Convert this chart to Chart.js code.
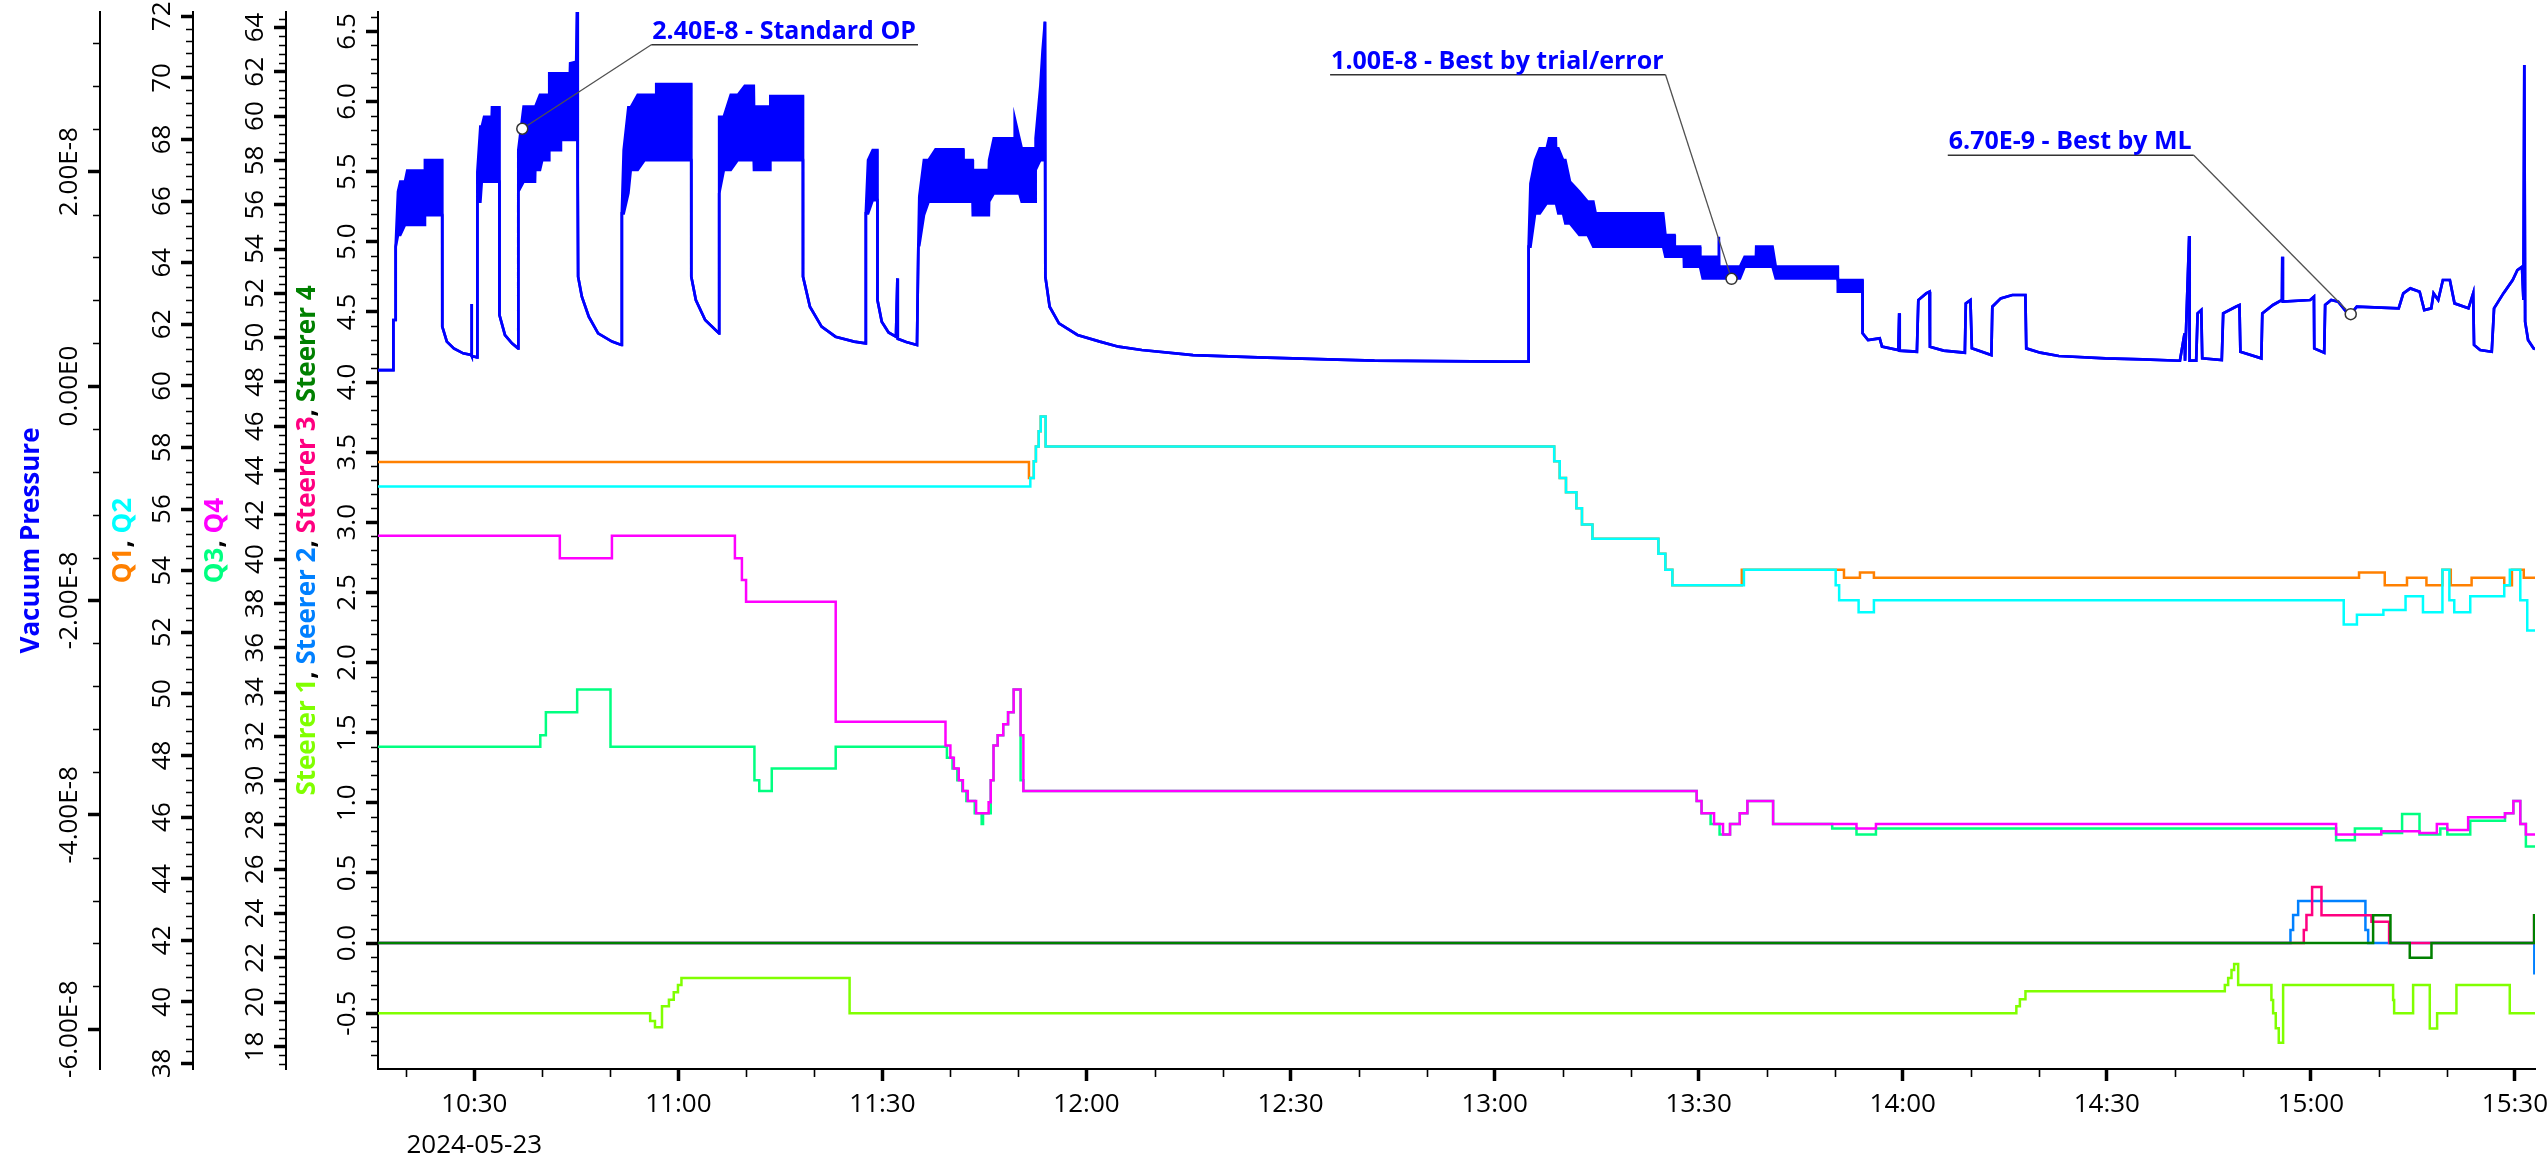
<!DOCTYPE html>
<html>
<head>
<meta charset="utf-8">
<title>Vacuum pressure, quadrupoles and steerers – 2024-05-23</title>
<script src="https://cdn.jsdelivr.net/npm/chart.js@4.4.1/dist/chart.umd.min.js"></script>
<style>
  html, body { margin: 0; padding: 0; background: #ffffff; }
  #wrap { position: relative; width: 2547px; height: 1158px; }
</style>
</head>
<body>
<div id="wrap"><canvas id="chart"></canvas></div>
<script>
// ---------------------------------------------------------------------------
// Data. Time is in minutes after midnight on 2024-05-23.
// Vacuum pressure is stored in units of 1e-8; where the gauge reading
// oscillates quickly it is kept as an upper and a lower envelope.
// One line per stretch of the trace; the three arrays run in parallel.
// ---------------------------------------------------------------------------
const vacuumTime = [
  615.84, 618.09, 618.10, 618.43, 618.44, 618.78, 619.12, 619.80, 620.14, 622.70, 622.74, 625.28,
  625.29, 625.96, 626.99, 628.36, 629.55, 629.59, 629.64, 630.41,
  630.45, 630.89, 631.09, 631.44, 632.56, 632.60, 633.69,
  633.70, 634.51, 635.54, 636.43,
  636.47, 637.25, 638.92, 638.96, 639.65, 639.99, 640.98, 641.02, 642.69, 642.73, 644.05, 644.09, 644.98, 645.12, 645.20, 645.26,
  645.81, 646.83, 648.20, 650.25, 651.62,
  651.69, 651.96, 652.65, 652.99, 654.02, 655.04, 656.71, 656.75, 661.89,
  661.90, 662.57, 663.94, 665.99,
  666.00, 666.68, 667.70, 668.73, 669.76, 671.08, 671.12, 673.48, 673.52, 678.31,
  678.32, 679.34, 681.05, 683.10, 685.84, 687.55,
  687.56, 687.89, 688.57, 689.26,
  689.27, 689.90, 690.90, 691.99, 692.20, 692.25, 693.50, 695.08,
  695.28, 695.42, 696.10, 696.79, 697.81, 701.88, 701.92, 703.25, 703.29, 705.64, 705.68, 706.37, 709.41, 709.45, 710.13, 710.47, 711.50, 712.48, 712.52, 713.21, 713.55, 713.89,
  713.95, 714.58, 715.95, 718.68, 721.97, 724.71, 728.13, 735.66, 745.24, 755.50, 762.34, 781.50, 784.93,
  785.00, 785.27, 785.95, 786.64, 787.66, 788.00, 788.99, 789.03, 789.37, 790.06, 790.40, 791.08, 792.45, 793.68, 794.51, 794.85,
  804.77, 805.11, 806.44, 806.48, 807.81, 807.85, 810.20, 810.24, 810.59, 812.90, 812.95, 812.98, 813.02, 816.06, 816.75, 818.42, 818.46, 820.85, 821.33, 830.45, 830.46, 834.08,
  834.10, 834.90, 836.61, 836.95, 839.35, 839.48, 839.55, 842.08,
  842.29, 843.45, 843.93, 844.00, 846.00, 849.13,
  849.27, 849.95, 850.16, 853.03,
  853.17, 854.40, 856.11, 858.03, 858.16, 860.22, 862.95, 869.80, 875.27, 880.75,
  881.43, 881.50, 882.11, 882.18, 883.14, 883.35, 883.89, 884.03, 886.90,
  887.11, 888.96, 889.50, 889.64, 892.72,
  892.86, 894.43, 895.75, 895.80, 895.88, 899.90, 900.45, 900.50, 901.96,
  902.10, 902.99, 904.01, 905.38, 905.86, 906.75, 912.91, 913.59, 914.62, 915.99, 916.67, 917.70, 918.04, 918.72, 919.41, 920.43, 921.12, 923.17, 923.86,
  923.99, 924.88, 926.59,
  926.93, 928.30, 929.67, 930.36, 931.04, 931.25, 931.38, 931.50, 931.93, 932.75, 932.95
];
const vacuumHigh = [
  0.149, 0.149, 0.616, 0.616, 1.300, 1.813, 1.906, 1.906, 2.009, 2.009, 2.108, 2.108,
  0.554, 0.414, 0.351, 0.305, 0.289, 0.765, 0.280, 0.267,
  1.999, 2.419, 2.419, 2.512, 2.512, 2.600, 2.600,
  0.662, 0.476, 0.398, 0.351,
  2.201, 2.606, 2.606, 2.606, 2.715, 2.715, 2.715, 2.917, 2.917, 2.917, 2.917, 3.010, 3.025, 3.550, 1.922, 1.020,
  0.833, 0.647, 0.491, 0.414, 0.383,
  1.611, 2.201, 2.600, 2.600, 2.715, 2.715, 2.715, 2.817, 2.817,
  1.020, 0.802, 0.616, 0.491,
  2.512, 2.512, 2.715, 2.715, 2.799, 2.799, 2.606, 2.606, 2.705, 2.705,
  1.020, 0.740, 0.554, 0.460, 0.414, 0.398,
  1.611, 2.108, 2.201, 2.201,
  0.802, 0.600, 0.500, 0.460, 1.004, 0.440, 0.410, 0.383,
  1.315, 1.766, 2.108, 2.108, 2.208, 2.208, 2.108, 2.108, 2.015, 2.015, 2.108, 2.310, 2.310, 2.497, 2.310, 2.217, 2.217, 2.217, 2.310, 2.792, 3.134, 3.399,
  1.020, 0.740, 0.585, 0.476, 0.414, 0.367, 0.336, 0.289, 0.267, 0.249, 0.236, 0.227, 0.227,
  1.300, 1.891, 2.108, 2.217, 2.217, 2.310, 2.310, 2.217, 2.217, 2.108, 2.108, 1.906, 1.813, 1.720, 1.720, 1.611,
  1.611, 1.409, 1.409, 1.300, 1.300, 1.300, 1.300, 1.206, 1.206, 1.206, 1.113, 1.393, 1.113, 1.113, 1.206, 1.206, 1.300, 1.300, 1.113, 1.113, 0.989, 0.989,
  0.491, 0.429, 0.445, 0.367, 0.336, 0.678, 0.330, 0.320,
  0.802, 0.864, 0.880, 0.367, 0.330, 0.311,
  0.771, 0.802, 0.351, 0.289,
  0.740, 0.818, 0.849, 0.849, 0.351, 0.311, 0.280, 0.258, 0.249, 0.236,
  0.491, 0.236, 1.399, 0.236, 0.236, 0.678, 0.709, 0.258, 0.242,
  0.678, 0.740, 0.756, 0.320, 0.258,
  0.678, 0.756, 0.802, 1.206, 0.787, 0.802, 0.833, 0.351, 0.311,
  0.756, 0.802, 0.787, 0.678, 0.670, 0.740, 0.725, 0.864, 0.911, 0.880, 0.709, 0.725, 0.864, 0.802, 0.989, 0.989, 0.771, 0.725, 0.864,
  0.383, 0.336, 0.320,
  0.725, 0.864, 0.989, 1.082, 1.113, 0.802, 2.994, 0.600, 0.429, 0.351, 0.345
];
const vacuumLow = [
  0.149, 0.149, 0.616, 0.616, 1.300, 1.409, 1.409, 1.502, 1.502, 1.502, 1.595, 1.595,
  0.554, 0.414, 0.351, 0.305, 0.289, 0.765, 0.280, 0.267,
  1.720, 1.720, 1.906, 1.906, 1.906, 1.906, 1.906,
  0.662, 0.476, 0.398, 0.351,
  1.813, 1.906, 1.906, 2.015, 2.015, 2.108, 2.108, 2.201, 2.201, 2.295, 2.295, 2.295, 2.295, 3.550, 1.922, 1.020,
  0.833, 0.647, 0.491, 0.414, 0.383,
  1.611, 1.611, 1.800, 2.015, 2.015, 2.108, 2.108, 2.108, 2.108,
  1.020, 0.802, 0.616, 0.491,
  1.797, 2.015, 2.015, 2.108, 2.108, 2.108, 2.015, 2.015, 2.108, 2.108,
  1.020, 0.740, 0.554, 0.460, 0.414, 0.398,
  1.611, 1.611, 1.735, 1.735,
  0.802, 0.600, 0.500, 0.460, 1.004, 0.440, 0.410, 0.383,
  1.315, 1.315, 1.595, 1.720, 1.720, 1.720, 1.720, 1.720, 1.595, 1.595, 1.720, 1.797, 1.797, 1.797, 1.797, 1.720, 1.720, 1.720, 2.015, 2.108, 2.108, 3.399,
  1.020, 0.740, 0.585, 0.476, 0.414, 0.367, 0.336, 0.289, 0.267, 0.249, 0.236, 0.227, 0.227,
  1.300, 1.300, 1.611, 1.611, 1.704, 1.704, 1.704, 1.704, 1.611, 1.611, 1.517, 1.517, 1.409, 1.409, 1.300, 1.300,
  1.300, 1.206, 1.206, 1.206, 1.206, 1.113, 1.113, 1.113, 1.004, 1.004, 1.004, 1.004, 1.004, 1.004, 1.113, 1.113, 1.113, 1.113, 1.004, 1.004, 0.880, 0.880,
  0.491, 0.429, 0.445, 0.367, 0.336, 0.678, 0.330, 0.320,
  0.802, 0.864, 0.880, 0.367, 0.330, 0.311,
  0.771, 0.802, 0.351, 0.289,
  0.740, 0.818, 0.849, 0.849, 0.351, 0.311, 0.280, 0.258, 0.249, 0.236,
  0.491, 0.236, 1.399, 0.236, 0.236, 0.678, 0.709, 0.258, 0.242,
  0.678, 0.740, 0.756, 0.320, 0.258,
  0.678, 0.756, 0.802, 1.206, 0.787, 0.802, 0.833, 0.351, 0.311,
  0.756, 0.802, 0.787, 0.678, 0.670, 0.740, 0.725, 0.864, 0.911, 0.880, 0.709, 0.725, 0.864, 0.802, 0.989, 0.989, 0.771, 0.725, 0.864,
  0.383, 0.336, 0.320,
  0.725, 0.864, 0.989, 1.082, 1.113, 0.802, 2.994, 0.600, 0.429, 0.351, 0.345
];

// Quadrupole settings (each value holds until the next time stamp)
const q1Time  = [615.84, 711.54, 712.25, 712.56, 712.97, 713.27, 713.99, 788.76, 789.57, 790.49, 792.02, 792.84, 794.38, 804.08, 805.10, 806.13, 816.34, 831.36, 833.71, 835.76, 907.08, 910.86, 914.13, 916.99, 919.34, 920.57, 923.63, 928.43, 929.56, 931.30, 932.95];
const q1Value = [57.53, 57.01, 57.55, 58.03, 58.53, 59.01, 58.03, 57.55, 57.01, 56.55, 56.03, 55.50, 55.04, 54.55, 54.03, 53.53, 54.03, 53.77, 53.94, 53.77, 53.94, 53.53, 53.77, 53.53, 54.03, 53.53, 53.77, 53.53, 54.03, 53.77, 53.77];
const q2Time  = [615.84, 711.74, 712.25, 712.56, 712.97, 713.27, 713.99, 788.76, 789.57, 790.49, 792.02, 792.84, 794.38, 804.08, 805.10, 806.13, 816.65, 830.14, 830.65, 833.51, 835.76, 904.83, 906.77, 910.66, 913.92, 916.48, 919.34, 920.36, 921.08, 923.43, 928.43, 929.25, 930.79, 931.81, 932.95];
const q2Value = [56.73, 57.01, 57.55, 58.03, 58.53, 59.01, 58.03, 57.55, 57.01, 56.55, 56.03, 55.50, 55.04, 54.55, 54.03, 53.53, 54.03, 53.53, 53.04, 52.65, 53.04, 52.25, 52.57, 52.72, 53.17, 52.65, 54.03, 53.04, 52.65, 53.17, 53.53, 54.03, 53.04, 52.06, 52.06];
const q3Time  = [615.84, 639.70, 640.52, 645.12, 650.02, 671.18, 671.89, 673.73, 683.13, 699.48, 700.30, 701.01, 701.73, 702.34, 703.57, 704.59, 704.79, 705.92, 706.33, 706.94, 707.76, 708.47, 709.29, 710.31, 710.72, 809.70, 810.42, 811.75, 813.07, 814.61, 816.04, 817.16, 820.94, 829.63, 833.20, 836.06, 903.71, 906.47, 910.35, 913.41, 915.97, 919.03, 920.06, 923.43, 928.54, 929.77, 930.79, 931.61, 932.95];
const q3Value = [31.53, 32.05, 33.09, 34.11, 31.53, 30.02, 29.53, 30.55, 31.53, 31.03, 30.55, 30.02, 29.53, 29.08, 28.53, 28.04, 28.53, 30.02, 31.58, 32.05, 32.54, 33.09, 34.11, 30.02, 29.53, 29.08, 28.53, 28.04, 27.57, 28.04, 28.53, 29.08, 28.04, 27.84, 27.57, 27.84, 27.31, 27.84, 27.63, 28.49, 27.57, 27.84, 27.57, 28.19, 28.53, 29.08, 28.04, 27.02, 27.02];
const q4Time  = [615.84, 642.57, 650.23, 668.31, 669.34, 669.95, 683.13, 699.27, 699.99, 700.50, 701.22, 701.83, 702.54, 703.77, 705.61, 705.92, 706.33, 706.94, 707.76, 708.47, 709.29, 710.31, 710.72, 809.70, 810.42, 812.26, 813.58, 814.61, 816.04, 817.16, 820.94, 833.20, 836.06, 903.71, 910.35, 915.97, 918.52, 920.06, 923.12, 928.54, 929.77, 930.79, 931.61, 932.95];
const q4Value = [41.06, 40.04, 41.06, 40.04, 39.06, 38.08, 32.66, 31.58, 31.03, 30.55, 30.02, 29.53, 29.08, 28.53, 29.02, 30.02, 31.58, 32.05, 32.54, 33.09, 34.11, 32.05, 29.53, 29.08, 28.53, 28.04, 27.57, 28.04, 28.53, 29.08, 28.04, 27.84, 28.04, 27.57, 27.71, 27.63, 28.04, 27.77, 28.35, 28.53, 29.08, 28.04, 27.57, 27.57];

// Steerer settings
const s1Time  = [615.84, 655.85, 656.56, 657.59, 658.61, 659.32, 659.94, 660.45, 685.17, 856.70, 857.22, 858.04, 887.35, 887.84, 888.33, 888.72, 889.31, 894.20, 894.45, 894.84, 895.28, 895.92, 912.09, 912.24, 915.03, 917.48, 918.56, 921.40, 929.24, 932.95];
const s1Value = [-0.50, -0.556, -0.60, -0.45, -0.405, -0.35, -0.30, -0.25, -0.50, -0.45, -0.40, -0.343, -0.30, -0.25, -0.193, -0.15, -0.30, -0.406, -0.50, -0.608, -0.71, -0.30, -0.406, -0.50, -0.30, -0.61, -0.50, -0.30, -0.50, -0.50];
const s2Time  = [615.84, 897.00, 897.39, 898.13, 908.02, 908.42, 932.85, 932.95];
const s2Value = [0, 0.093, 0.20, 0.30, 0.093, 0, -0.216, -0.216];
const s3Time  = [615.84, 898.96, 899.35, 900.18, 901.56, 908.91, 911.50, 932.82, 932.95];
const s3Value = [0, 0.093, 0.20, 0.40, 0.198, 0.152, 0, 0.198, 0.198];
const s4Time  = [615.84, 909.15, 911.70, 914.54, 917.73, 932.82, 932.95];
const s4Value = [0, 0.198, 0, -0.105, 0, 0.198, 0.198];

// Marked operating points on the pressure trace
const markTime    = [637.05, 814.83, 905.86];
const markValueE8 = [2.40, 1.00, 0.67];
const markNote    = ['Standard OP', 'Best by trial/error', 'Best by ML'];

// Date shown under the first time label
const dateLabel = '2024-05-23';

// ---------------------------------------------------------------------------
// Styling
// ---------------------------------------------------------------------------
const COL = {
  vac: '#0000ff', q1: '#ff8000', q2: '#00ffff', q3: '#00ff80', q4: '#ff00ff',
  s1: '#80ff00', s2: '#0080ff', s3: '#ff0080', s4: '#008000', ink: '#000000'
};
const FONT = '"Open Sans", "Noto Sans", sans-serif';
const TICK_PX = 26;
const TITLE_PX = 26;
const NOTE_PX = 25;

const sci = x => x === 0 ? '0.00E0' : x.toExponential(2).toUpperCase().replace('E+', 'E');
const clock = v => {
  const h = Math.floor(v / 60 + 1e-9);
  const m = Math.round(v - h * 60);
  return h + ':' + String(m).padStart(2, '0');
};

// Left axes, innermost first
const Y_AXES = [
  { id: 'ySteer', weight: 0, width: 92,  min: -0.898, max: 6.638, major: 0.5, minor: 0.1,
    fmt: v => v.toFixed(1), titleDx: 22,
    title: [['Steerer 1', COL.s1], [', ', COL.ink], ['Steerer 2', COL.s2], [', ', COL.ink], ['Steerer 3', COL.s3], [', ', COL.ink], ['Steerer 4', COL.s4]] },
  { id: 'yQ34', weight: 1, width: 93, min: 16.98, max: 64.70, major: 2, minor: 0.4,
    fmt: v => String(Math.round(v)), titleDx: 23,
    title: [['Q3', COL.q3], [', ', COL.ink], ['Q4', COL.q4]] },
  { id: 'yQ12', weight: 2, width: 93, min: 37.82, max: 72.14, major: 2, minor: 0.4,
    fmt: v => String(Math.round(v)), titleDx: 24,
    title: [['Q1', COL.q1], [', ', COL.ink], ['Q2', COL.q2]] },
  { id: 'yVac', weight: 3, width: 100, min: -6.371, max: 3.489, major: 2, minor: 0.4,
    fmt: v => sci(v * 1e-8), titleDx: 32,
    title: [['Vacuum Pressure', COL.vac]] }
];

const X_MIN = 615.84, X_MAX = 932.95;

const pts = (ts, vs) => ts.map((t, i) => ({ x: t, y: vs[i] }));

// Placement of the notes relative to their marked point (pixels)
const NOTE_STYLE = [
  { dx: 129, dy: -84, side: 'left' },
  { dx: -66, dy: -204, side: 'right' },
  { dx: -157, dy: -159, side: 'right' }
];
const MARK_R = 5.5;

// ---------------------------------------------------------------------------
// Scales
// ---------------------------------------------------------------------------
const scales = {
  x: {
    type: 'linear', position: 'bottom', min: X_MIN, max: X_MAX,
    ticks: {
      stepSize: 30, includeBounds: false, autoSkip: false, maxRotation: 0, minRotation: 0,
      padding: 3, color: COL.ink,
      font: { family: FONT, size: TICK_PX, lineHeight: 1.58 },
      callback: v => (Math.abs(v - 630) < 1e-6 ? [clock(v), dateLabel] : clock(v))
    },
    grid: { drawOnChartArea: false, drawTicks: true, tickLength: 12, tickWidth: 3.5, tickColor: COL.ink },
    border: { display: true, color: COL.ink, width: 2 },
    afterFit: s => { s.height = 89; s.paddingLeft = 0; s.paddingRight = 0; }
  }
};
Y_AXES.forEach(a => {
  scales[a.id] = {
    type: 'linear', position: 'left', weight: a.weight, min: a.min, max: a.max,
    ticks: { display: false, stepSize: a.major, includeBounds: false },
    grid: { drawOnChartArea: false, drawTicks: true, tickLength: 12, tickWidth: 3.5, tickColor: COL.ink },
    border: { display: true, color: COL.ink, width: 2 },
    afterFit: s => { s.width = a.width; s.paddingTop = 0; s.paddingBottom = 0; }
  };
});

// ---------------------------------------------------------------------------
// Axis decorations: minor ticks, rotated tick labels, coloured titles
// ---------------------------------------------------------------------------
const axisDecor = {
  id: 'axisDecor',
  afterDraw(chart) {
    const ctx = chart.ctx;
    const area = chart.chartArea;
    ctx.save();
    ctx.strokeStyle = COL.ink;
    ctx.lineWidth = 1.6;

    // minor ticks on the left axes
    Y_AXES.forEach(a => {
      const s = chart.scales[a.id];
      const x0 = s.right - 1;
      const k0 = Math.ceil(a.min / a.minor - 1e-9), k1 = Math.floor(a.max / a.minor + 1e-9);
      ctx.beginPath();
      for (let k = k0; k <= k1; k++) {
        const v = k * a.minor;
        const r = v / a.major;
        if (Math.abs(r - Math.round(r)) < 1e-6) continue;
        const y = Math.round(s.getPixelForValue(v)) + 0.5;
        ctx.moveTo(x0, y);
        ctx.lineTo(x0 - 6, y);
      }
      ctx.stroke();
    });

    // minor ticks on the time axis (every 10 minutes)
    const xs = chart.scales.x;
    ctx.beginPath();
    for (let m = Math.ceil(X_MIN / 10); m * 10 <= X_MAX; m++) {
      if (m % 3 === 0) continue;
      const x = Math.round(xs.getPixelForValue(m * 10)) + 0.5;
      ctx.moveTo(x, xs.top + 1);
      ctx.lineTo(x, xs.top + 8);
    }
    ctx.stroke();

    // rotated tick labels
    ctx.fillStyle = COL.ink;
    ctx.font = TICK_PX + 'px ' + FONT;
    ctx.textAlign = 'center';
    ctx.textBaseline = 'middle';
    Y_AXES.forEach(a => {
      const s = chart.scales[a.id];
      s.ticks.forEach(t => {
        const y = s.getPixelForValue(t.value);
        ctx.save();
        ctx.translate(s.right - 30, y);
        ctx.rotate(-Math.PI / 2);
        ctx.fillText(a.fmt(t.value), 0, 0);
        ctx.restore();
      });
    });

    // multi-coloured axis titles
    ctx.font = 'bold ' + TITLE_PX + 'px ' + FONT;
    ctx.textAlign = 'left';
    const midY = (area.top + area.bottom) / 2;
    Y_AXES.forEach(a => {
      const s = chart.scales[a.id];
      const total = a.title.reduce((w, seg) => w + ctx.measureText(seg[0]).width, 0);
      ctx.save();
      ctx.translate(s.left + a.titleDx, midY);
      ctx.rotate(-Math.PI / 2);
      let x = -total / 2;
      a.title.forEach(([txt, col]) => {
        ctx.fillStyle = col;
        ctx.fillText(txt, x, 0);
        x += ctx.measureText(txt).width;
      });
      ctx.restore();
    });
    ctx.restore();
  }
};

// Notes attached to the marked pressure points
const pressureNotes = {
  id: 'pressureNotes',
  afterDatasetsDraw(chart) {
    const ctx = chart.ctx;
    const xs = chart.scales.x, ys = chart.scales.yVac;
    ctx.save();
    ctx.font = 'bold ' + NOTE_PX + 'px ' + FONT;
    markTime.forEach((t, i) => {
      const st = NOTE_STYLE[i];
      const px = xs.getPixelForValue(t);
      const py = ys.getPixelForValue(markValueE8[i]);
      const text = sci(markValueE8[i] * 1e-8) + ' - ' + markNote[i];
      const w = ctx.measureText(text).width + 3;
      const ax = px + st.dx, ay = py + st.dy;
      const left = st.side === 'left' ? ax : ax - w;

      // leader from the underline to the edge of the marker
      const d = Math.hypot(px - ax, py - ay);
      const ex = px - (px - ax) / d * (MARK_R + 1), ey = py - (py - ay) / d * (MARK_R + 1);
      ctx.strokeStyle = '#505050';
      ctx.lineWidth = 1.3;
      ctx.beginPath();
      ctx.moveTo(ax, ay);
      ctx.lineTo(ex, ey);
      ctx.stroke();

      // underline
      ctx.strokeStyle = '#333333';
      ctx.lineWidth = 1.6;
      ctx.beginPath();
      ctx.moveTo(left, ay);
      ctx.lineTo(left + w, ay);
      ctx.stroke();

      ctx.fillStyle = COL.vac;
      ctx.textAlign = 'left';
      ctx.textBaseline = 'alphabetic';
      ctx.fillText(text, left + 1, ay - 6);
    });
    ctx.restore();
  }
};

// ---------------------------------------------------------------------------
// Chart
// ---------------------------------------------------------------------------
const stepLine = (label, ts, vs, color, axis, order) => ({
  label, data: pts(ts, vs), yAxisID: axis, borderColor: color, backgroundColor: color,
  borderWidth: 2.5, pointRadius: 0, stepped: true, fill: false, order
});

new Chart(document.getElementById('chart'), {
  type: 'line',
  data: {
    datasets: [
      { label: 'Marked points', data: pts(markTime, markValueE8), yAxisID: 'yVac', showLine: false,
        pointRadius: MARK_R, pointBackgroundColor: '#ffffff', pointBorderColor: '#333333', pointBorderWidth: 1.5, order: 0 },
      { label: 'Vacuum Pressure', data: pts(vacuumTime, vacuumHigh), yAxisID: 'yVac', borderColor: COL.vac,
        backgroundColor: COL.vac, borderWidth: 2.7, pointRadius: 0, fill: '+1', order: 1 },
      { label: 'Vacuum Pressure (low envelope)', data: pts(vacuumTime, vacuumLow), yAxisID: 'yVac', borderColor: COL.vac,
        backgroundColor: COL.vac, borderWidth: 2.7, pointRadius: 0, fill: false, order: 2 },
      stepLine('Q2', q2Time, q2Value, COL.q2, 'yQ12', 3),
      stepLine('Q1', q1Time, q1Value, COL.q1, 'yQ12', 4),
      stepLine('Q4', q4Time, q4Value, COL.q4, 'yQ34', 5),
      stepLine('Q3', q3Time, q3Value, COL.q3, 'yQ34', 6),
      stepLine('Steerer 4', s4Time, s4Value, COL.s4, 'ySteer', 7),
      stepLine('Steerer 3', s3Time, s3Value, COL.s3, 'ySteer', 8),
      stepLine('Steerer 2', s2Time, s2Value, COL.s2, 'ySteer', 9),
      stepLine('Steerer 1', s1Time, s1Value, COL.s1, 'ySteer', 10)
    ]
  },
  options: {
    responsive: true,
    maintainAspectRatio: false,
    animation: false,
    events: [],
    layout: { padding: { left: 0, top: 12, right: 12, bottom: 0 } },
    elements: { line: { tension: 0 } },
    plugins: { legend: { display: false }, tooltip: { enabled: false }, title: { display: false } },
    scales
  },
  plugins: [axisDecor, pressureNotes]
});
</script>
</body>
</html>
